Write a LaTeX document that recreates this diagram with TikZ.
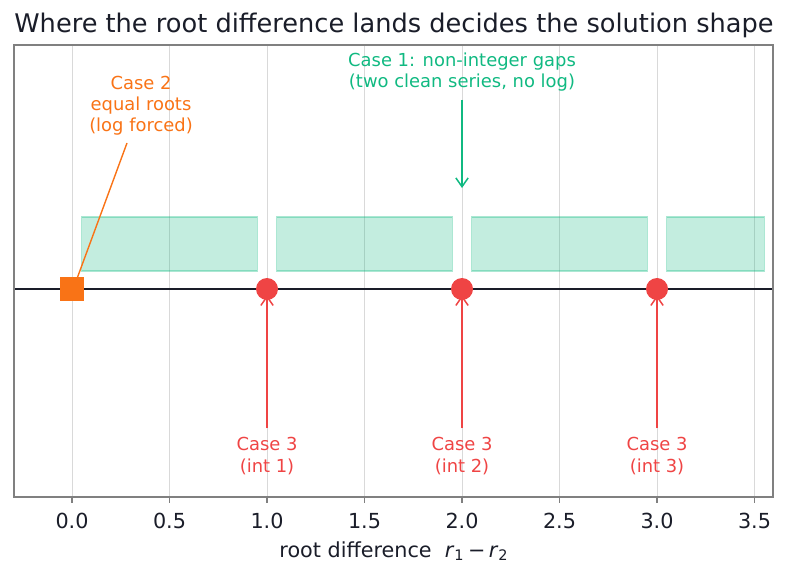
\documentclass[tikz,border=0pt]{standalone}
\usepackage{fontspec}
\setmainfont{DejaVu Sans}
\usetikzlibrary{arrows.meta}

\definecolor{caseOneGreen}{HTML}{10B981}
\definecolor{caseTwoOrange}{HTML}{F97316}
\definecolor{caseThreeRed}{HTML}{EF4444}
\definecolor{inkDark}{HTML}{1A1D29}
\definecolor{frameGray}{HTML}{808080}

\begin{document}
\begin{tikzpicture}[
    x=0.02cm, y=-0.02cm,
    rootGridStyle/.style={gray!30, line width=0.5pt},
    rootFrameStyle/.style={frameGray, line width=0.7pt},
    rootGapStyle/.style={fill=caseOneGreen, fill opacity=0.25, draw=caseOneGreen, draw opacity=0.35, line width=0.6pt},
    rootNoteStyle/.style={font=\fontsize{10.2}{12}\selectfont, align=center, inner sep=0pt},
    rootArrowStyle/.style={-{Straight Barb[length=5pt, width=7pt]}, line width=0.85pt},
    rootTickStyle/.style={font=\fontsize{11.8}{14}\selectfont, text=inkDark, inner sep=0pt}
]
    \useasboundingbox (0,0) rectangle (787,577);

    % --- Gitter und Rahmen ---
    \foreach \k in {0,...,7}
        \draw[rootGridStyle] ({72+97.5*\k},45) -- ({72+97.5*\k},497);

    % Intervalle ohne ganze Zahl
    \foreach \a/\b in {0.05/0.95, 1.05/1.95, 2.05/2.95, 3.05/3.55}
        \draw[rootGapStyle] ({72+195*\a},217) rectangle ({72+195*\b},271);

    \draw[inkDark, line width=1.2pt] (14,289) -- (773,289);
    \draw[rootFrameStyle] (14,45) rectangle (773,497);

    % Achse
    \foreach \t [count=\k from 0] in {0.0,0.5,1.0,1.5,2.0,2.5,3.0,3.5} {
        \draw[rootFrameStyle] ({72+97.5*\k},497) -- ({72+97.5*\k},503);
        \node[rootTickStyle] (tick\k) at ({72+97.5*\k},521) {\t};
    }
    \node[rootTickStyle] (xlabel) at (394,551)
        {root difference\ \ \textit{r}\textsubscript{1}\,−\,\textit{r}\textsubscript{2}};

    \node[font=\fontsize{14.6}{17}\selectfont, text=inkDark, inner sep=0pt] (title) at (394,25)
        {Where the root difference lands decides the solution shape};

    % --- Fall 2: gleiche Wurzeln ---
    \coordinate (caseTwoTail) at (127,143);
    \node[rootNoteStyle, text=caseTwoOrange] (caseTwoNote) at (141,106)
        {Case 2\\equal roots\\(log forced)};
    \node[fill=caseTwoOrange, minimum size=24*0.02cm, inner sep=0pt] (caseTwoMark) at (72,289) {};
    \draw[caseTwoOrange, line width=0.8pt] (caseTwoTail) -- ([xshift=0.1cm, yshift=-0.04cm]caseTwoMark.north);

    % --- Fall 3: ganzzahlige Differenz ---
    \foreach \n in {1,2,3} {
        \node[circle, fill=caseThreeRed, minimum size=22*0.02cm, inner sep=0pt] (intMark\n) at ({72+195*\n},289) {};
        \node[rootNoteStyle, text=caseThreeRed] (intNote\n) at ({72+195*\n},456)
            {Case 3\\(int \n)};
        \draw[rootArrowStyle, caseThreeRed] ([yshift=0.18cm]intNote\n.north) -- ([yshift=0.1cm]intMark\n.south);
    }

    % --- Fall 1: keine ganze Zahl ---
    \node[rootNoteStyle, text=caseOneGreen] (caseOneNote) at (462,72)
        {Case 1: non-integer gaps\\(two clean series, no log)};
    \coordinate (caseOneHead) at (462,188);
    \draw[rootArrowStyle, caseOneGreen] ([yshift=-0.16cm]caseOneNote.south) -- (caseOneHead);
\end{tikzpicture}
\end{document}
